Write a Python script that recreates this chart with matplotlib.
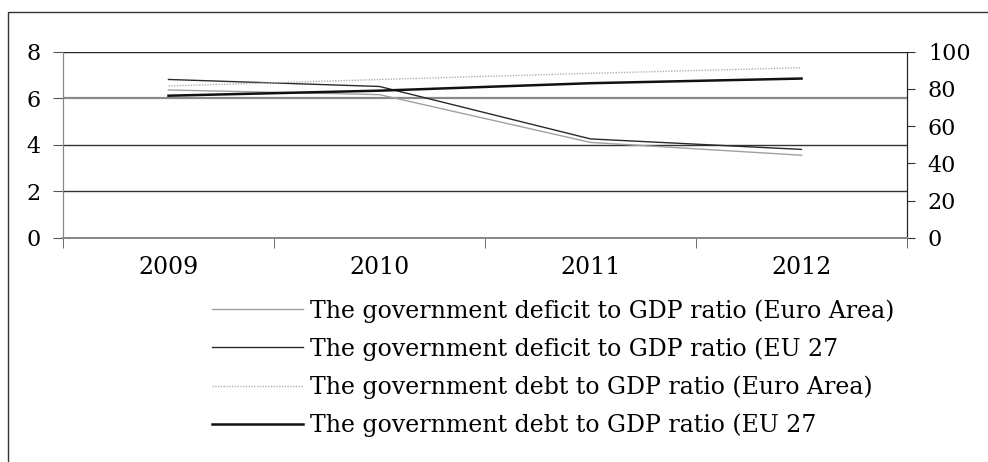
import numpy as np
import matplotlib
matplotlib.use("Agg")
import matplotlib.pyplot as plt
from matplotlib.patches import Rectangle

plt.rcParams['font.family'] = ['DejaVu Serif']

# datos
anios = ['2009', '2010', '2011', '2012']
deficit_euro = [6.35, 6.15, 4.1, 3.55]
deficit_eu27 = [6.8, 6.5, 4.25, 3.8]
deuda_euro = [81.5, 85, 88.3, 91.3]
deuda_eu27 = [76.3, 79, 83, 85.5]

etiquetas = ['The government deficit to GDP ratio (Euro Area)',
             'The government deficit to GDP ratio (EU 27',
             'The government debt to GDP ratio (Euro Area)',
             'The government debt to GDP ratio (EU 27']

W, H = 988, 462
fig = plt.figure(figsize=(W / 100, H / 100), dpi=100)

# marco exterior (solo se ven el borde superior e izquierdo)
fig.patches.append(Rectangle((8 / W, -0.1), 1.2, 1.1 - 12 / H,
                             transform=fig.transFigure, fill=False,
                             edgecolor='#333333', linewidth=1.0))

ax = fig.add_axes([63 / W, 1 - 238 / H, (907 - 63) / W, (238 - 51.5) / H])
ax2 = ax.twinx()

x = np.arange(len(anios))
l1, = ax.plot(x, deficit_euro, color='#a0a0a0', lw=1.0)
l2, = ax.plot(x, deficit_eu27, color='#2a2a2a', lw=1.0)
l3, = ax2.plot(x, deuda_euro, color='#b0b0b0', lw=1.0, ls=(0, (1, 1)))
l4, = ax2.plot(x, deuda_eu27, color='#111111', lw=1.8)

ax.set_xlim(-0.5, len(anios) - 0.5)
ax.set_ylim(0, 8)
ax2.set_ylim(0, 100)
ax.set_yticks([0, 2, 4, 6, 8])
ax2.set_yticks([0, 20, 40, 60, 80, 100])

# lineas de cuadricula
for v, c, w in [(2, '#333333', 1.0), (4, '#333333', 1.0), (6, '#8a8a8a', 1.6), (8, '#222222', 1.0)]:
    ax.axhline(v, color=c, lw=w, zorder=0)

ax.set_xticks(x)
ax.set_xticklabels(anios, fontsize=17)
ax.set_xticks(np.arange(-0.5, len(anios)), minor=True)
ax.tick_params(axis='x', which='major', length=0, pad=13)
ax.tick_params(axis='x', which='minor', length=7, direction='out', color='#555555')
ax.tick_params(axis='y', length=7, direction='out', labelsize=16, pad=9, color='#555555')
ax2.tick_params(axis='y', length=6, direction='out', labelsize=16, pad=9, color='#333333')

for a in (ax, ax2):
    a.spines['top'].set_visible(False)
    a.spines['left'].set_color('#888888')
    a.spines['bottom'].set_color('#888888')
    a.spines['bottom'].set_linewidth(1.4)
    a.spines['right'].set_color('#222222')
    a.set_facecolor('none')

fig.legend([l1, l2, l3, l4], etiquetas, loc='upper left',
           bbox_to_anchor=(212 / W, 1 - 299 / H), frameon=False,
           fontsize=17, handlelength=3.85, handletextpad=0.3,
           labelspacing=0.62, borderpad=0, borderaxespad=0)

fig.savefig('out.png', dpi=100)
